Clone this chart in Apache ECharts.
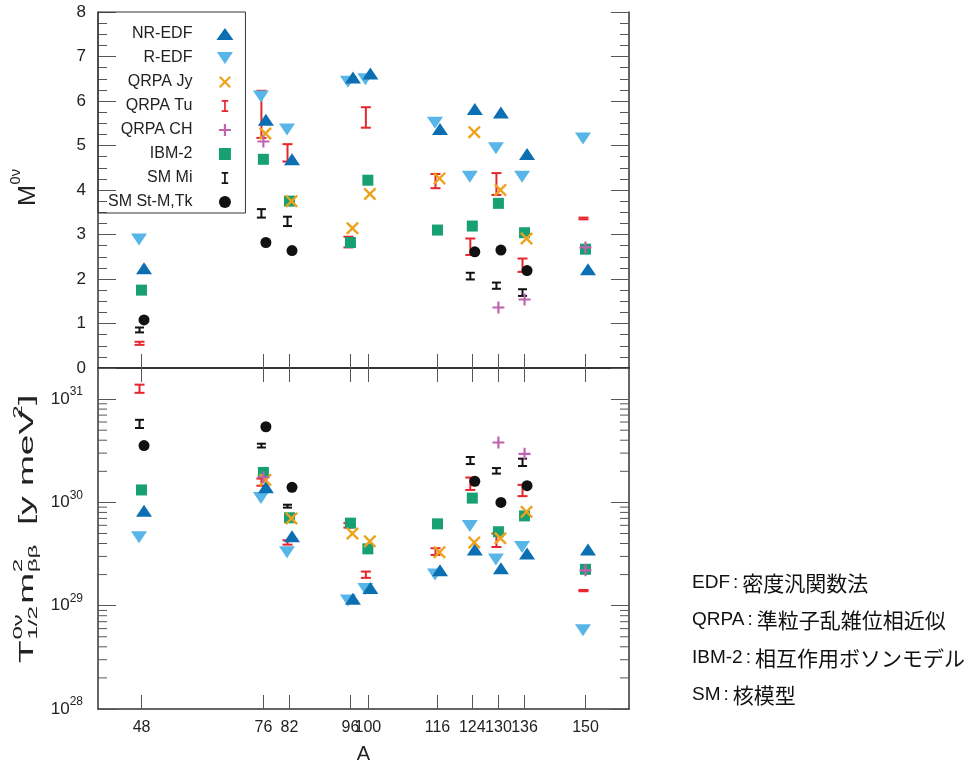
<!DOCTYPE html>
<html>
<head>
<meta charset="utf-8">
<script src="https://cdn.jsdelivr.net/npm/echarts@6.0.0/dist/echarts.min.js"></script>
<style>
html, body { margin: 0; padding: 0; background: #fff; }
#chart { width: 972px; height: 767px; }
</style>
</head>
<body>
<div id="chart"></div>
<script>
// mass numbers shown on the x axis
var aTicks = [48, 76, 82, 96, 100, 116, 124, 130, 136, 150];

// NR-EDF
var nrA = [48, 76, 82, 96, 100, 116, 124, 130, 136, 150];
var nrM = [2.24, 5.58, 4.69, 6.53, 6.62, 5.37, 5.82, 5.74, 4.81, 2.22];
var nrT = [8.3e29, 1.4e30, 4.7e29, 1.17e29, 1.48e29, 2.2e29, 3.5e29, 2.3e29, 3.2e29, 3.5e29];

// R-EDF
var rA = [48, 76, 82, 96, 100, 116, 124, 130, 136, 150];
var rM = [2.89, 6.10, 5.36, 6.43, 6.49, 5.51, 4.30, 4.94, 4.30, 5.16];
var rT = [4.6e29, 1.1e30, 3.3e29, 1.12e29, 1.45e29, 2.0e29, 5.9e29, 2.8e29, 3.7e29, 5.8e28];

// QRPA Jy
var jyA = [76, 82, 96, 100, 116, 124, 130, 136];
var jyM = [5.27, 3.75, 3.14, 3.91, 4.26, 5.30, 4.00, 2.91];
var jyT = [1.65e30, 7.0e29, 5.0e29, 4.2e29, 3.3e29, 4.1e29, 4.5e29, 8.1e29];

// QRPA Tu (ranges)
var tuA = [48, 76, 82, 96, 100, 116, 124, 130, 136, 150];
var tuMLow = [0.52, 5.17, 4.64, 2.71, 5.40, 4.04, 2.54, 3.89, 2.16, 3.34];
var tuMHigh = [0.59, 6.23, 5.03, 2.95, 5.86, 4.36, 2.91, 4.38, 2.46, 3.38];
var tuTLow = [1.15e31, 1.45e30, 3.9e29, 5.7e29, 1.86e29, 3.1e29, 1.32e30, 3.7e29, 1.15e30, 1.38e29];
var tuTHigh = [1.38e31, 1.7e30, 4.3e29, 6.3e29, 2.14e29, 3.6e29, 1.74e30, 5.0e29, 1.48e30, 1.42e29];

// QRPA CH
var chA = [76, 130, 136, 150];
var chM = [5.09, 1.36, 1.54, 2.71];
var chT = [1.75e30, 3.8e30, 2.95e30, 2.2e29];

// IBM-2
var ibmA = [48, 76, 82, 96, 100, 116, 124, 130, 136, 150];
var ibmM = [1.75, 4.69, 3.75, 2.82, 4.22, 3.10, 3.19, 3.70, 3.04, 2.67];
var ibmT = [1.32e30, 1.95e30, 7.1e29, 6.3e29, 3.55e29, 6.2e29, 1.1e30, 5.2e29, 7.4e29, 2.25e29];

// SM Mi (ranges)
var miA = [48, 76, 82, 124, 130, 136];
var miMLow = [0.80, 3.38, 3.19, 1.99, 1.78, 1.62];
var miMHigh = [0.91, 3.57, 3.40, 2.14, 1.92, 1.77];
var miTLow = [5.25e30, 3.4e30, 8.9e29, 2.35e30, 1.9e30, 2.25e30];
var miTHigh = [6.3e30, 3.7e30, 9.5e29, 2.75e30, 2.15e30, 2.65e30];

// SM St-M,Tk
var stA = [48, 76, 82, 124, 130, 136];
var stM = [1.08, 2.82, 2.64, 2.61, 2.65, 2.19];
var stT = [3.55e30, 5.4e30, 1.4e30, 1.6e30, 1.0e30, 1.45e30];

var notes = [
  ['EDF', '密度汎関数法'],
  ['QRPA', '準粒子乱雑位相近似'],
  ['IBM-2', '相互作用ボソンモデル'],
  ['SM', '核模型']
];

var FONT = 'Liberation Sans, Arial, sans-serif';
var colNR = '#0b6fb1', colR = '#58b5e8', colJy = '#eea21c', colTu = '#e5262c';
var colCH = '#c062ad', colIBM = '#16a074', colSM = '#111';

var downTri = 'path://M0,0L16,0L8,12Z';
var xPath = 'path://M0,1.3L1.3,0L5,3.7L8.7,0L10,1.3L6.3,5L10,8.7L8.7,10L5,6.3L1.3,10L0,8.7L3.7,5Z';
var plusPath = 'path://M4.1,0H5.9V4.1H10V5.9H5.9V10H4.1V5.9H0V4.1H4.1Z';
var beamIcon = 'path://M0,0H7V1.8H4.4V11.2H7V13H0V11.2H2.6V1.8H0Z';
var squareIcon = 'path://M0,0H10V10H0Z';

function zip(xs, ys) {
  return xs.map(function (a, i) { return [a, ys[i]]; });
}

function zip3(xs, lo, hi) {
  return xs.map(function (a, i) { return [a, lo[i], hi[i]]; });
}

function scatter(name, panel, xs, ys, symbol, size, color, dx) {
  return {
    type: 'scatter',
    name: name,
    xAxisIndex: panel * 2,
    yAxisIndex: panel * 2,
    data: zip(xs, ys),
    symbol: symbol,
    symbolSize: size,
    symbolOffset: [dx, 0],
    itemStyle: { color: color, opacity: 1 },
    silent: true
  };
}

function bars(name, panel, xs, lo, hi, color, cap, dx) {
  return {
    type: 'custom',
    name: name,
    xAxisIndex: panel * 2,
    yAxisIndex: panel * 2,
    data: zip3(xs, lo, hi),
    encode: { x: 0, y: [1, 2] },
    itemStyle: { color: color },
    silent: true,
    renderItem: function (params, api) {
      var p1 = api.coord([api.value(0), api.value(1)]);
      var p2 = api.coord([api.value(0), api.value(2)]);
      var x = p1[0] + dx;
      var st = { stroke: color, lineWidth: 2 };
      return {
        type: 'group',
        children: [
          { type: 'line', shape: { x1: x, y1: p1[1], x2: x, y2: p2[1] }, style: st },
          { type: 'line', shape: { x1: x - cap / 2, y1: p1[1], x2: x + cap / 2, y2: p1[1] }, style: st },
          { type: 'line', shape: { x1: x - cap / 2, y1: p2[1], x2: x + cap / 2, y2: p2[1] }, style: st }
        ]
      };
    }
  };
}

// minor ticks of the log axis (2..9 x 10^n)
var logMinor = [];
for (var e = 28; e <= 30; e++) {
  for (var k = 2; k <= 9; k++) {
    logMinor.push(k * Math.pow(10, e));
  }
}

var tickColor = '#555';
var lineColor = '#333';

function xAxis(grid, pos, labels) {
  return {
    type: 'value',
    gridIndex: grid,
    position: pos,
    min: 38,
    max: 160,
    splitLine: { show: false },
    axisLine: { lineStyle: { color: lineColor, width: 1.5 } },
    axisTick: { inside: true, length: 14, customValues: aTicks, lineStyle: { color: tickColor } },
    axisLabel: labels ? {
      customValues: aTicks, fontSize: 16, margin: 11, color: '#222', fontFamily: FONT
    } : { show: false },
    name: labels ? 'A' : '',
    nameLocation: 'middle',
    nameGap: 35,
    nameTextStyle: { fontSize: 20, color: '#222', fontFamily: FONT }
  };
}

function linAxis(pos, labels) {
  return {
    type: 'value',
    gridIndex: 0,
    position: pos,
    min: 0,
    max: 8,
    interval: 1,
    splitLine: { show: false },
    axisLine: { lineStyle: { color: lineColor, width: 1.5 } },
    axisTick: { inside: true, length: 18, lineStyle: { color: tickColor } },
    minorTick: { show: true, splitNumber: 4, length: 9, lineStyle: { color: tickColor } },
    axisLabel: labels ? { fontSize: 17, margin: 12, color: '#222', fontFamily: FONT } : { show: false }
  };
}

function logAxis(pos, labels) {
  return {
    type: 'log',
    logBase: 10,
    gridIndex: 1,
    position: pos,
    min: 1e28,
    max: 2e31,
    splitLine: { show: false },
    axisLine: { lineStyle: { color: lineColor, width: 1.5 } },
    axisTick: { inside: true, length: 18, lineStyle: { color: tickColor } },
    axisLabel: labels ? {
      margin: 15,
      color: '#222',
      fontFamily: FONT,
      formatter: function (v) {
        var ex = Math.log10(v);
        if (Math.abs(ex - Math.round(ex)) > 1e-6) {
          return '';
        }
        return '{b|10}{s|' + Math.round(ex) + '}';
      },
      rich: {
        b: { fontSize: 17, lineHeight: 26, fontFamily: FONT, color: '#222' },
        s: { fontSize: 12, lineHeight: 12, verticalAlign: 'top', fontFamily: FONT, color: '#222' }
      }
    } : { show: false }
  };
}

var series = [];
[0, 1].forEach(function (p) {
  var top = p === 0;
  series.push(bars('QRPA Tu', p, tuA, top ? tuMLow : tuTLow, top ? tuMHigh : tuTHigh, colTu, 10, -2));
  series.push(bars('SM Mi', p, miA, top ? miMLow : miTLow, top ? miMHigh : miTHigh, colSM, 9, -2));
  series.push(scatter('R-EDF', p, rA, top ? rM : rT, downTri, [16, 12], colR, -2.5));
  series.push(scatter('NR-EDF', p, nrA, top ? nrM : nrT, 'triangle', [16, 12], colNR, 2.5));
  series.push(scatter('IBM-2', p, ibmA, top ? ibmM : ibmT, 'rect', 11, colIBM, 0));
  series.push(scatter('QRPA Jy', p, jyA, top ? jyM : jyT, xPath, 13, colJy, 2));
  series.push(scatter('QRPA CH', p, chA, top ? chM : chT, plusPath, 12, colCH, 0));
  series.push(scatter('SM St-M,Tk', p, stA, top ? stM : stT, 'circle', 11, colSM, 2.5));
});

series.push({
  type: 'custom',
  xAxisIndex: 2,
  yAxisIndex: 2,
  silent: true,
  clip: false,
  data: logMinor.map(function (v) { return [40, v]; }),
  encode: { x: 0, y: 1 },
  renderItem: function (params, api) {
    var cs = params.coordSys;
    var y = api.coord([api.value(0), api.value(1)])[1];
    var st = { stroke: tickColor, lineWidth: 1 };
    return {
      type: 'group',
      children: [
        { type: 'line', shape: { x1: cs.x, y1: y, x2: cs.x + 9, y2: y }, style: st },
        { type: 'line', shape: { x1: cs.x + cs.width - 9, y1: y, x2: cs.x + cs.width, y2: y }, style: st }
      ]
    };
  }
});

function txt(x, y, s, size) {
  return {
    type: 'text', x: x, y: y,
    style: { text: s, fontSize: size, fontFamily: FONT, fill: '#222', align: 'left', verticalAlign: 'middle' }
  };
}

var graphics = [
  {
    type: 'group', x: 28.5, y: 206, rotation: Math.PI / 2, scaleX: 1.05,
    children: [txt(0, 0, 'M', 24), txt(20.5, -12, '0ν', 14)]
  },
  {
    type: 'group', x: 27, y: 663, rotation: Math.PI / 2, scaleX: 1.85,
    children: [
      txt(0, 0, 'T', 20),
      txt(12.7, -9, '0ν', 13),
      txt(12.7, 6, '1/2', 13),
      txt(32, 0, 'm', 20),
      txt(49, -9, '2', 13),
      txt(49, 6, 'ββ', 13),
      txt(69, 0, ' [y meV', 20),
      txt(132, -9, '2', 13),
      txt(139.5, 0, ']', 20)
    ]
  }
];

notes.forEach(function (n, i) {
  graphics.push({
    type: 'text', x: 692, y: 582.7 + i * 37.5,
    style: {
      text: '{l|' + n[0] + '}{c|:}{j|' + n[1] + '}',
      align: 'left', verticalAlign: 'middle',
      rich: {
        l: { fontSize: 19, fontFamily: FONT, fill: '#111' },
        c: { fontSize: 19, fontFamily: FONT, fill: '#111', padding: [0, 4, 0, 3] },
        j: { fontSize: 21, fontFamily: 'Noto Sans CJK JP', fill: '#111' }
      }
    }
  });
});

var option = {
  animation: false,
  backgroundColor: '#fff',
  grid: [
    { left: 98, top: 12, width: 531, height: 356 },
    { left: 98, top: 368, width: 531, height: 341 }
  ],
  xAxis: [xAxis(0, 'bottom', false), xAxis(0, 'top', false), xAxis(1, 'top', false), xAxis(1, 'bottom', true)],
  yAxis: [linAxis('left', true), linAxis('right', false), logAxis('left', true), logAxis('right', false)],
  legend: {
    left: 98,
    top: 12,
    orient: 'vertical',
    align: 'right',
    selectedMode: false,
    padding: [14, 12, 3, 10],
    itemGap: 8,
    itemWidth: 17,
    itemHeight: 12,
    borderColor: lineColor,
    borderWidth: 1,
    textStyle: { fontSize: 16, lineHeight: 12, color: '#222', fontFamily: FONT, padding: [0, 19, 0, 0] },
    data: [
      { name: 'NR-EDF', icon: 'triangle' },
      { name: 'R-EDF', icon: downTri },
      { name: 'QRPA Jy', icon: xPath },
      { name: 'QRPA Tu', icon: beamIcon },
      { name: 'QRPA CH', icon: plusPath },
      { name: 'IBM-2', icon: squareIcon },
      { name: 'SM Mi', icon: beamIcon },
      { name: 'SM St-M,Tk', icon: 'circle' }
    ]
  },
  graphic: graphics,
  series: series
};

var chart = echarts.init(document.getElementById('chart'));
chart.setOption(option);
</script>
</body>
</html>
